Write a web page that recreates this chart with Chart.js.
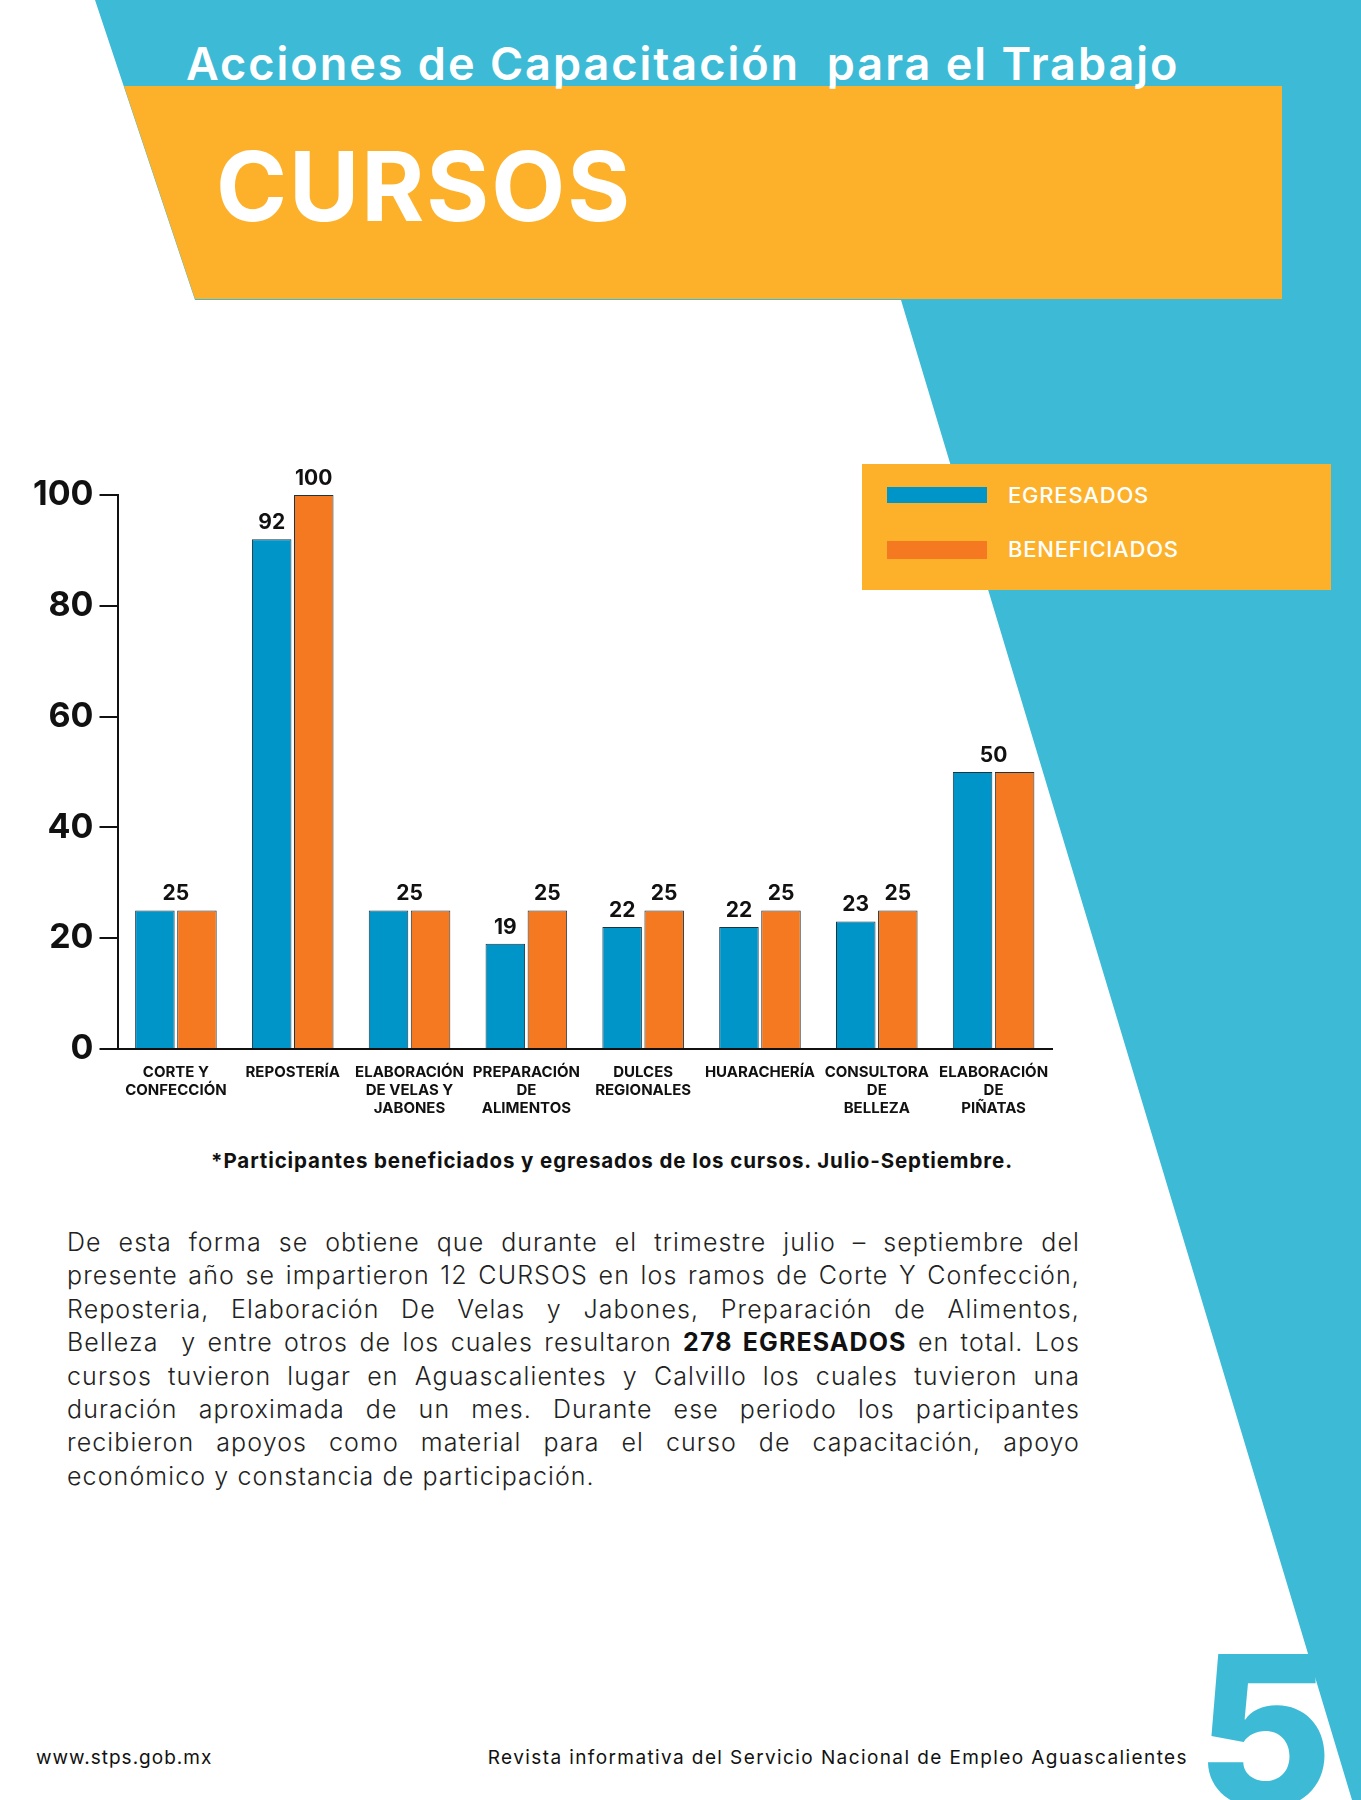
<!DOCTYPE html>
<html><head><meta charset="utf-8">
<script src="https://cdn.jsdelivr.net/npm/chart.js@4"></script>
<style>
body{margin:0;width:1361px;height:1800px;position:relative;background:#fff;font-family:Inter,"Open Sans",sans-serif;overflow:hidden}
.abs{position:absolute}
</style></head><body>
<svg class="abs" style="left:0;top:0" width="1361" height="1800">
<polygon points="95,0 1361,0 1361,1800 1352,1800 901,300 195,300" fill="#3DBBD6"/>
<polygon points="124,86 1282,86 1282,299 195,299" fill="#FDB12B"/>
<rect x="862" y="464" width="469" height="126" fill="#FDB12B"/>
<rect x="887" y="487" width="100" height="16" fill="#0095C9"/>
<rect x="887" y="541" width="100" height="18" fill="#F47920"/>
</svg>
<div class="abs" style="left:186px;top:36px;font-size:45px;font-weight:600;color:#fff;letter-spacing:2px">Acciones de Capacitación&nbsp; para el Trabajo</div>
<div class="abs" style="left:216px;top:128px;font-size:96px;font-weight:700;color:#fff;letter-spacing:2px">CURSOS</div>
<div class="abs" style="left:1008px;top:482px;font-size:22px;color:#fff;font-weight:500;letter-spacing:0.8px">EGRESADOS</div>
<div class="abs" style="left:1008px;top:536px;font-size:22px;color:#fff;font-weight:500;letter-spacing:0.8px">BENEFICIADOS</div>
<div class="abs" style="left:0;top:440px;width:1100px;height:683px"><canvas id="c"></canvas></div>
<div class="abs" style="left:112px;top:1148px;width:1000px;text-align:center;font-size:20.5px;font-weight:700;color:#111;letter-spacing:0.9px">*Participantes beneficiados y egresados de los cursos. Julio-Septiembre.</div>
<div class="abs" style="left:67px;top:1226px;width:1013px;font-size:25px;line-height:33.4px;color:#222;text-align:justify;font-weight:300;letter-spacing:1.1px;hyphens:auto" lang="es">De esta forma se obtiene que durante el trimestre julio – septiembre del presente año se impartieron 12 CURSOS en los ramos de Corte Y Confec&shy;ción, Reposteria, Elaboración De Velas y Jabones, Preparación de Alimen&shy;tos, Belleza&nbsp; y entre otros de los cuales resultaron <b style="font-weight:700;color:#111">278 EGRESADOS</b> en total. Los cursos tuvieron lugar en Aguascalientes y Calvillo los cuales tuvieron una duración aproximada de un mes. Durante ese periodo los participan&shy;tes recibieron apoyos como material para el curso de capacitación, apoyo económico y constancia de participación.</div>
<div class="abs" style="left:36px;top:1746px;font-size:19px;color:#111;letter-spacing:1px">www.stps.gob.mx</div>
<div class="abs" style="left:343px;top:1746px;width:845px;text-align:right;font-size:19px;color:#111;letter-spacing:1.4px">Revista informativa del Servicio Nacional de Empleo Aguascalientes</div>
<div class="abs" style="left:1196px;top:1626px;font-size:210px;font-weight:800;color:#3DBBD6;line-height:1">5</div>
<script>
const categories=[["CORTE Y","CONFECCIÓN"],["REPOSTERÍA"],["ELABORACIÓN","DE VELAS Y","JABONES"],["PREPARACIÓN","DE","ALIMENTOS"],["DULCES","REGIONALES"],["HUARACHERÍA"],["CONSULTORA","DE","BELLEZA"],["ELABORACIÓN","DE","PIÑATAS"]];
const egresados=[25,92,25,19,22,22,23,50];
const beneficiados=[25,100,25,25,25,25,25,50];
const yTicks=[0,20,40,60,80,100];
const labelPlugin={id:'lbl',afterDatasetsDraw(ch){
 const ctx=ch.ctx;ctx.save();ctx.font='700 21px Inter';ctx.fillStyle='#111';ctx.textAlign='center';ctx.textBaseline='bottom';
 const m0=ch.getDatasetMeta(0).data,m1=ch.getDatasetMeta(1).data;
 egresados.forEach((v,i)=>{const b=beneficiados[i];
  if(v===b){ctx.fillText(v,(m0[i].x+m1[i].x)/2,m1[i].y-6);}
  else{ctx.fillText(v,m0[i].x,m0[i].y-6);ctx.fillText(b,m1[i].x,m1[i].y-6);}
 });ctx.restore();}};
new Chart(document.getElementById('c'),{type:'bar',
 data:{labels:categories,datasets:[
  {label:'EGRESADOS',data:egresados,backgroundColor:'#0095C9',borderColor:'#1d3540',borderWidth:1},
  {label:'BENEFICIADOS',data:beneficiados,backgroundColor:'#F47920',borderColor:'#1d3540',borderWidth:1}]},
 options:{responsive:true,maintainAspectRatio:false,animation:false,
  layout:{padding:{top:55,left:27,right:48}},
  plugins:{legend:{display:false},tooltip:{enabled:false}},
  datasets:{bar:{categoryPercentage:0.72,barPercentage:0.94}},
  scales:{
   x:{grid:{display:false},border:{color:'#111',width:2},ticks:{color:'#111',font:{size:15,weight:'700',family:'Inter'},maxRotation:0,autoSkip:false,padding:6}},
   y:{min:0,max:100,afterBuildTicks(a){a.ticks=yTicks.map(v=>({value:v}));},grid:{display:true,drawOnChartArea:false,drawTicks:true,tickLength:18,color:'#111',lineWidth:2},border:{color:'#111',width:2},
      ticks:{color:'#111',font:{size:34,weight:'700',family:'Inter'},padding:6}}
  }},plugins:[labelPlugin]});
</script>
</body></html>
